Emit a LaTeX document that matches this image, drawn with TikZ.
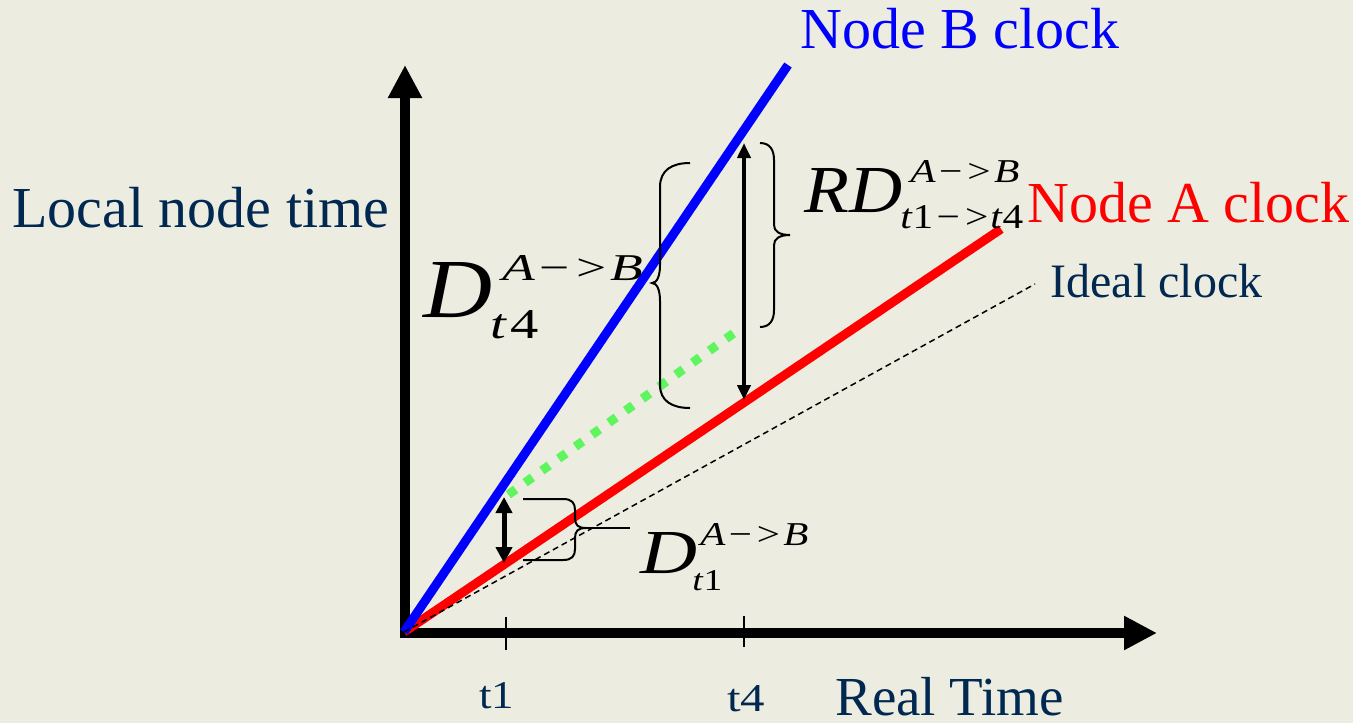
\documentclass[tikz,border=0pt]{standalone}
\usepackage{fontspec}
\setmainfont{Liberation Serif}
\usepackage{graphicx}
\usetikzlibrary{arrows.meta}
\definecolor{bg}{RGB}{236,236,224}
\definecolor{navy}{RGB}{0,40,80}
\definecolor{gdot}{RGB}{95,245,95}
\newlength\pxu \setlength\pxu{0.5pt}
\newcommand{\fitbox}[3]{\resizebox{#1\pxu}{#2\pxu}{#3}}
\newcommand{\fsz}[1]{\fontsize{#1}{#1}\selectfont}
\newcommand{\arrAB}{\textit{A}\kern0.08em−\kern0.12em>\kern0.08em\textit{B}}
\begin{document}
\begin{tikzpicture}[x=0.5pt,y=-0.5pt,
  axis/.style={line width=5pt,-{Triangle[length=16.5pt,width=16pt]}},
  tickline/.style={line width=1pt},
  clockB/.style={blue,line width=4.5pt},
  clockA/.style={red,line width=4.5pt},
  idealline/.style={line width=0.75pt,dash pattern=on 3pt off 2pt},
  offsetline/.style={gdot,line width=4.5pt,dash pattern=on 4.5pt off 5.8pt,dash phase=5.15pt},
  dblA/.style={line width=2.5pt,{Triangle[length=8pt,width=8pt]}-{Triangle[length=8pt,width=8pt]}},
  dblB/.style={line width=2pt,{Triangle[length=7.5pt,width=6.5pt]}-{Triangle[length=7.5pt,width=6.5pt]}},
  bracel/.style={line width=1pt},
  lab/.style={inner sep=0pt,anchor=base west}]
\fill[bg] (0,0) rectangle (1353,723);
\useasboundingbox (0,0) rectangle (1353,723);
% coordinates
\coordinate (Ys) at (405,638);
\coordinate (Yt) at (405,65);
\coordinate (Xs) at (400,633);
\coordinate (Xt) at (1157,633);
\coordinate (O) at (404,632);
\coordinate (Bend) at (788,65);
\coordinate (Aend) at (1001,229);
\coordinate (Iend) at (1035,284);
\coordinate (g1) at (500,500.6);
\coordinate (g2) at (741,328);
\coordinate (t1a) at (506,617);
\coordinate (t1b) at (506,650);
\coordinate (t4a) at (744,616);
\coordinate (t4b) at (744,647);
\coordinate (a1t) at (504,497);
\coordinate (a1b) at (504,563);
\coordinate (a4t) at (744,143);
\coordinate (a4b) at (744,400);
\coordinate (b1tip) at (586,528);
\coordinate (b1end) at (630,528);
% axes
\draw[axis] (Ys) -- (Yt);
\draw[axis] (Xs) -- (Xt);
\draw[tickline] (t1a) -- (t1b);
\draw[tickline] (t4a) -- (t4b);
% clocks
\draw[offsetline] (g1) -- (g2);
\draw[clockA] (O) -- (Aend);
\draw[clockB] (O) -- (Bend);
\draw[idealline] (O) -- (Iend);
% double arrows
\draw[dblA] (a1t) -- (a1b);
\draw[dblB] (a4t) -- (a4b);
% braces
\draw[bracel] (523,499) -- (563,499) .. controls (572,499) and (575,503) .. (575,510) -- (575,518)
  .. controls (575,525) and (578,528) .. (b1tip) .. controls (578,528) and (575,531) .. (575,538)
  -- (575,549) .. controls (575,556) and (572,560) .. (563,560) -- (523,560);
\draw[bracel] (b1tip) -- (b1end);
\draw[bracel] (690,163) .. controls (672,163) and (660,170) .. (660,187) -- (660,265)
  .. controls (660,276) and (657,283) .. (652,283) .. controls (657,283) and (660,290) .. (660,301)
  -- (660,385) .. controls (660,401) and (672,408) .. (690,408);
\draw[bracel] (760,143) .. controls (770,143) and (774,150) .. (774,160) -- (774,225)
  .. controls (774,231) and (779,235) .. (790,235) .. controls (779,235) and (774,239) .. (774,245)
  -- (774,310) .. controls (774,320) and (770,327) .. (760,327);
% text labels
\node[lab,text=navy] (local) at (12,227) {\fsz{29pt}Local node time};
\node[lab,text=blue] (nodeB) at (800,48) {\fsz{29pt}Node B clock};
\node[lab,text=red] (nodeA) at (1027,222) {\fsz{29pt}Node A clock};
\node[lab,text=navy] (ideal) at (1050,297) {\fsz{24pt}Ideal clock};
\node[lab,text=navy] (t1) at (479,708) {\fitbox{35}{26}{t1}};
\node[lab,text=navy] (t4) at (727,711) {\fitbox{38}{26}{t4}};
\node[lab,text=navy] (real) at (835,715) {\fsz{27.5pt}Real Time};
% equation labels
\node[lab] (d4D) at (423,317) {\fitbox{69}{55}{\itshape D}};
\node[lab] (d4sup) at (502,280) {\fitbox{141}{25}{\arrAB}};
\node[lab] (d4sub) at (490,338) {\fitbox{48}{28}{\textit{t}\kern0.05em 4}};
\node[lab] (d1D) at (640,573) {\fitbox{57}{41}{\itshape D}};
\node[lab] (d1sup) at (700,545) {\fitbox{108}{22}{\arrAB}};
\node[lab] (d1sub) at (692,590) {\fitbox{30}{20}{\textit{t}1}};
\node[lab] (rdD) at (804,212) {\fitbox{98}{44}{\itshape RD}};
\node[lab] (rdsup) at (910,182) {\fitbox{109}{22}{\arrAB}};
\node[lab] (rdsub) at (900,228) {\fitbox{123}{23}{\textit{t}1\kern0.08em−\kern0.12em>\kern0.05em\textit{t}4}};
\end{tikzpicture}
\end{document}
